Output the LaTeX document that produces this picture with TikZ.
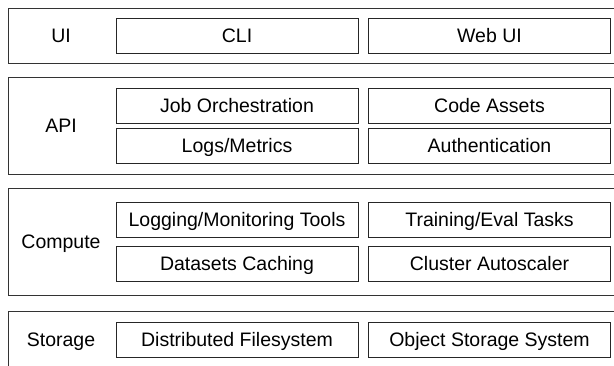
\documentclass[tikz,border=0pt]{standalone}
\usepackage{fontspec}
\setsansfont{Liberation Sans}

\begin{document}
\begin{tikzpicture}[x = 1pt, y = -1pt, font=\sffamily\fontsize{19.5}{23}\selectfont]
	\tikzstyle{layerStyle} = [shape = rectangle, draw = black!80, line width = 1pt, inner sep = 0pt, minimum width = 612pt]
	\tikzstyle{partStyle} = [shape = rectangle, draw = black!85, line width = 1pt, inner sep = 0pt, minimum width = 242pt, minimum height = 35pt, text height = 15pt, text depth = 2pt]
	\tikzstyle{labelStyle} = [inner sep = 0pt, text height = 15pt, text depth = 2pt]
	\useasboundingbox (0,0) rectangle (614,365);
	\clip (0,0) rectangle (614,365);
	% layers
	\node[layerStyle, minimum height = 55pt] (ui) at (314, 35.5) {};
	\node[layerStyle, minimum height = 97pt] (api) at (314, 125.5) {};
	\node[layerStyle, minimum height = 107pt] (compute) at (314, 241.5) {};
	\node[layerStyle, minimum height = 69pt] (storage) at (314, 345.5) {};
	\node[labelStyle] (uiLabel) at (61, 35.5) {UI};
	\node[labelStyle] (apiLabel) at (61, 125.5) {API};
	\node[labelStyle] (computeLabel) at (61, 242) {Compute};
	\node[labelStyle] (storageLabel) at (61, 340) {Storage};
	% parts
	\node[partStyle] (cli) at (237, 35.5) {CLI};
	\node[partStyle] (webui) at (489.5, 35.5) {Web UI};
	\node[partStyle] (jobs) at (237, 105.5) {Job Orchestration};
	\node[partStyle] (assets) at (489.5, 105.5) {Code Assets};
	\node[partStyle] (logs) at (237, 146) {Logs/Metrics};
	\node[partStyle] (auth) at (489.5, 146) {Authentication};
	\node[partStyle] (tools) at (237, 220) {Logging/Monitoring Tools};
	\node[partStyle] (tasks) at (489.5, 220) {Training/Eval Tasks};
	\node[partStyle] (cache) at (237, 264) {Datasets Caching};
	\node[partStyle] (scaler) at (489.5, 264) {Cluster Autoscaler};
	\node[partStyle] (dfs) at (237, 340) {Distributed Filesystem};
	\node[partStyle] (objects) at (489.5, 340) {Object Storage System};
\end{tikzpicture}
\end{document}
